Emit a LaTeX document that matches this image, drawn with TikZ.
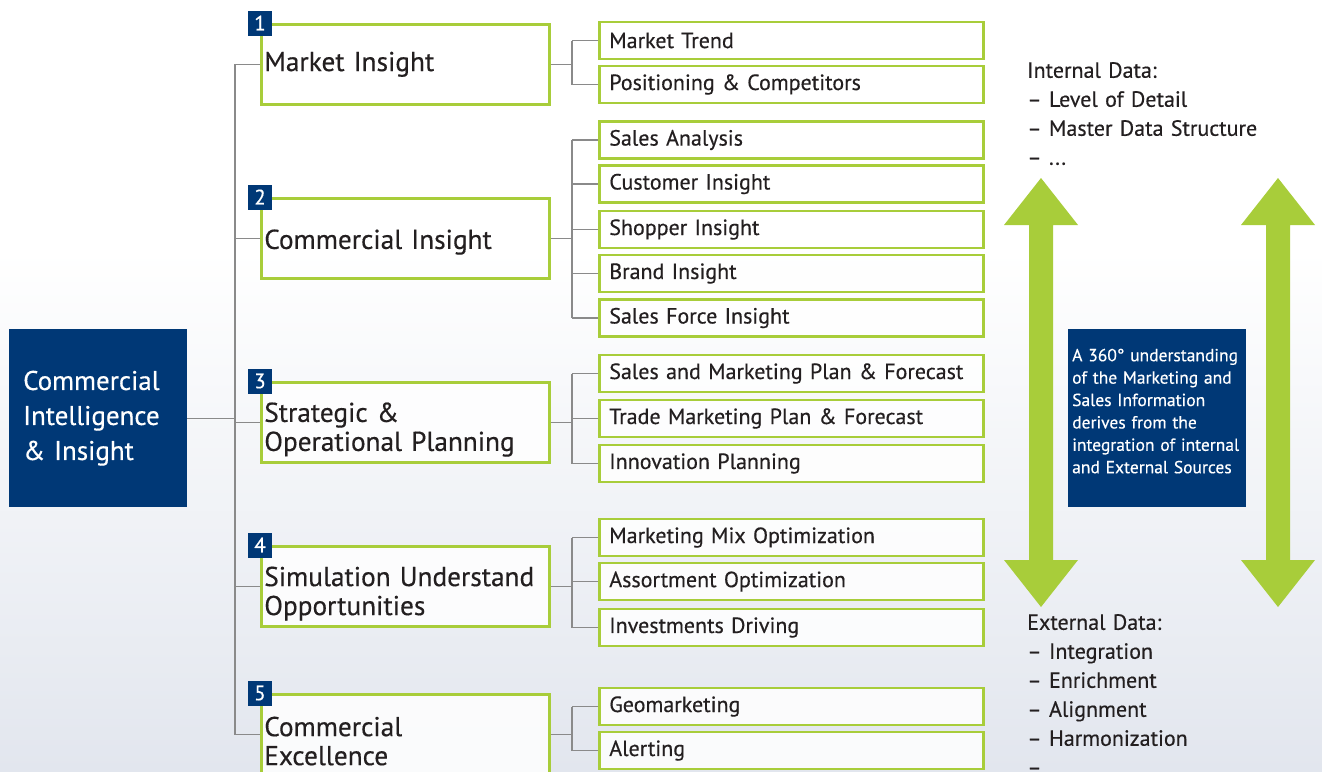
\documentclass[tikz,border=0pt]{standalone}
\usepackage{fontspec}
\setmainfont{PT Sans}[FakeBold=0.4]
\usetikzlibrary{positioning}
\definecolor{ciblue}{RGB}{0,56,118}
\definecolor{cigreen}{RGB}{168,205,58}
\definecolor{wiregray}{RGB}{138,138,138}
\definecolor{inktext}{RGB}{35,31,32}
\definecolor{haze}{RGB}{226,230,238}

\tikzset{
  wire/.style={draw=wiregray, line width=1.3pt},
  topic/.style={draw=cigreen, line width=2.6pt, fill=white, fill opacity=0.85, text opacity=1,
    anchor=north west, minimum width=288pt, minimum height=80pt, text width=282pt,
    inner xsep=3pt, align=left, text=inktext, font=\fontsize{27.3}{29}\selectfont},
  lowtext/.style={execute at begin node={\rule{0pt}{#1}}},
  item/.style={draw=cigreen, line width=2.6pt, fill=white, fill opacity=0.85, text opacity=1,
    anchor=west, minimum width=384pt, minimum height=37pt, text width=364pt,
    inner xsep=10pt, inner ysep=0pt, align=left, text=inktext, font=\fontsize{22}{24}\selectfont},
  numtag/.style={fill=ciblue, text=white, minimum width=24pt, minimum height=25pt,
    inner sep=0pt, font=\fontsize{21}{21}\selectfont},
  bluebox/.style={fill=ciblue, text=white, anchor=north west, minimum width=178pt,
    minimum height=178pt, align=left},
  note/.style={anchor=north west, inner sep=0pt, text width=290pt, align=left,
    text=inktext, font=\fontsize{22}{29}\selectfont},
}

\begin{document}
\begin{tikzpicture}[x=1pt, y=-1pt]
	\useasboundingbox (0,0) rectangle (1322,771);
	% soft backdrop
	\shade[top color=white, bottom color=haze] (0,250) rectangle (1322,771);

	% Root and topics:
	\node[bluebox, inner xsep=14pt, text width=150pt, font=\fontsize{27}{35}\selectfont] (ci) at (9,329)
		{Commercial\\Intelligence\\\& Insight};
	\node[topic] (m1) at (260,23)  {Market Insight};
	\node[topic, lowtext=27pt] (m2) at (260,197) {Commercial Insight};
	\node[topic, lowtext=34pt] (m3) at (260,381) {Strategic \&\\Operational Planning};
	\node[topic, lowtext=34pt] (m4) at (260,545) {Simulation Understand\\Opportunities};
	\node[topic, lowtext=33pt] (m5) at (260,693) {Commercial\\Excellence};
	\foreach \i in {1,...,5}
		\node[numtag] (n\i) at (m\i.north west) {\i};

	% Items:
	\node[item] (s11) at (598,40.5)  {Market Trend};
	\node[item] (s12) at (598,84.5)  {Positioning \& Competitors};
	\node[item] (s21) at (598,140)   {Sales Analysis};
	\node[item] (s22) at (598,184)   {Customer Insight};
	\node[item] (s23) at (598,229.5) {Shopper Insight};
	\node[item] (s24) at (598,273.5) {Brand Insight};
	\node[item] (s25) at (598,318)   {Sales Force Insight};
	\node[item] (s31) at (598,373.5) {Sales and Marketing Plan \& Forecast};
	\node[item] (s32) at (598,418.5) {Trade Marketing Plan \& Forecast};
	\node[item] (s33) at (598,463.5) {Innovation Planning};
	\node[item] (s41) at (598,537.5) {Marketing Mix Optimization};
	\node[item] (s42) at (598,581.5) {Assortment Optimization};
	\node[item] (s43) at (598,627.5) {Investments Driving};
	\node[item] (s51) at (598,706.5) {Geomarketing};
	\node[item] (s52) at (598,750.5) {Alerting};

	% Wires:
	\coordinate (trunk) at (235,0);
	\coordinate (brk) at (572,0);
	\draw[wire] (ci.east) -- (ci.east -| trunk);
	\draw[wire] (m1.west) -- (m1.west -| trunk) -- (m5.west -| trunk) -- (m5.west);
	\foreach \m in {m2,m3,m4}
		\draw[wire] (\m.west) -- (\m.west -| trunk);
	\foreach \m/\first/\last in {m1/s11/s12, m2/s21/s25, m3/s31/s33, m4/s41/s43, m5/s51/s52} {
		\draw[wire] (\m.east) -- (\m.east -| brk);
		\draw[wire] (\first.west -| brk) -- (\last.west -| brk);
	}
	\foreach \s in {s11,s12,s21,s22,s23,s24,s25,s31,s32,s33,s41,s42,s43,s51,s52}
		\draw[wire] (\s.west) -- (\s.west -| brk);

	% Double arrows
	\foreach \ax in {1041,1278}
		\fill[cigreen] (\ax-12,225) -- (\ax-37,225) -- (\ax,178) -- (\ax+37,225) -- (\ax+12,225)
			-- (\ax+12,560) -- (\ax+37,560) -- (\ax,607) -- (\ax-37,560) -- (\ax-12,560) -- cycle;

	% Notes
	\node[note] (intd) at (1027,62) {Internal Data:\\– Level of Detail\\– Master Data Structure\\– ...};
	\node[note] (extd) at (1027,614) {External Data:\\– Integration\\– Enrichment\\– Alignment\\– Harmonization\\–};
	\node[bluebox, inner xsep=4pt, text width=170pt, font=\fontsize{17.5}{22.4}\selectfont] (info) at (1068,329)
		{A 360° understanding\\of the Marketing and\\Sales Information\\derives from the\\integration of internal\\and External Sources\\[-8pt]\mbox{}};
\end{tikzpicture}
\end{document}
